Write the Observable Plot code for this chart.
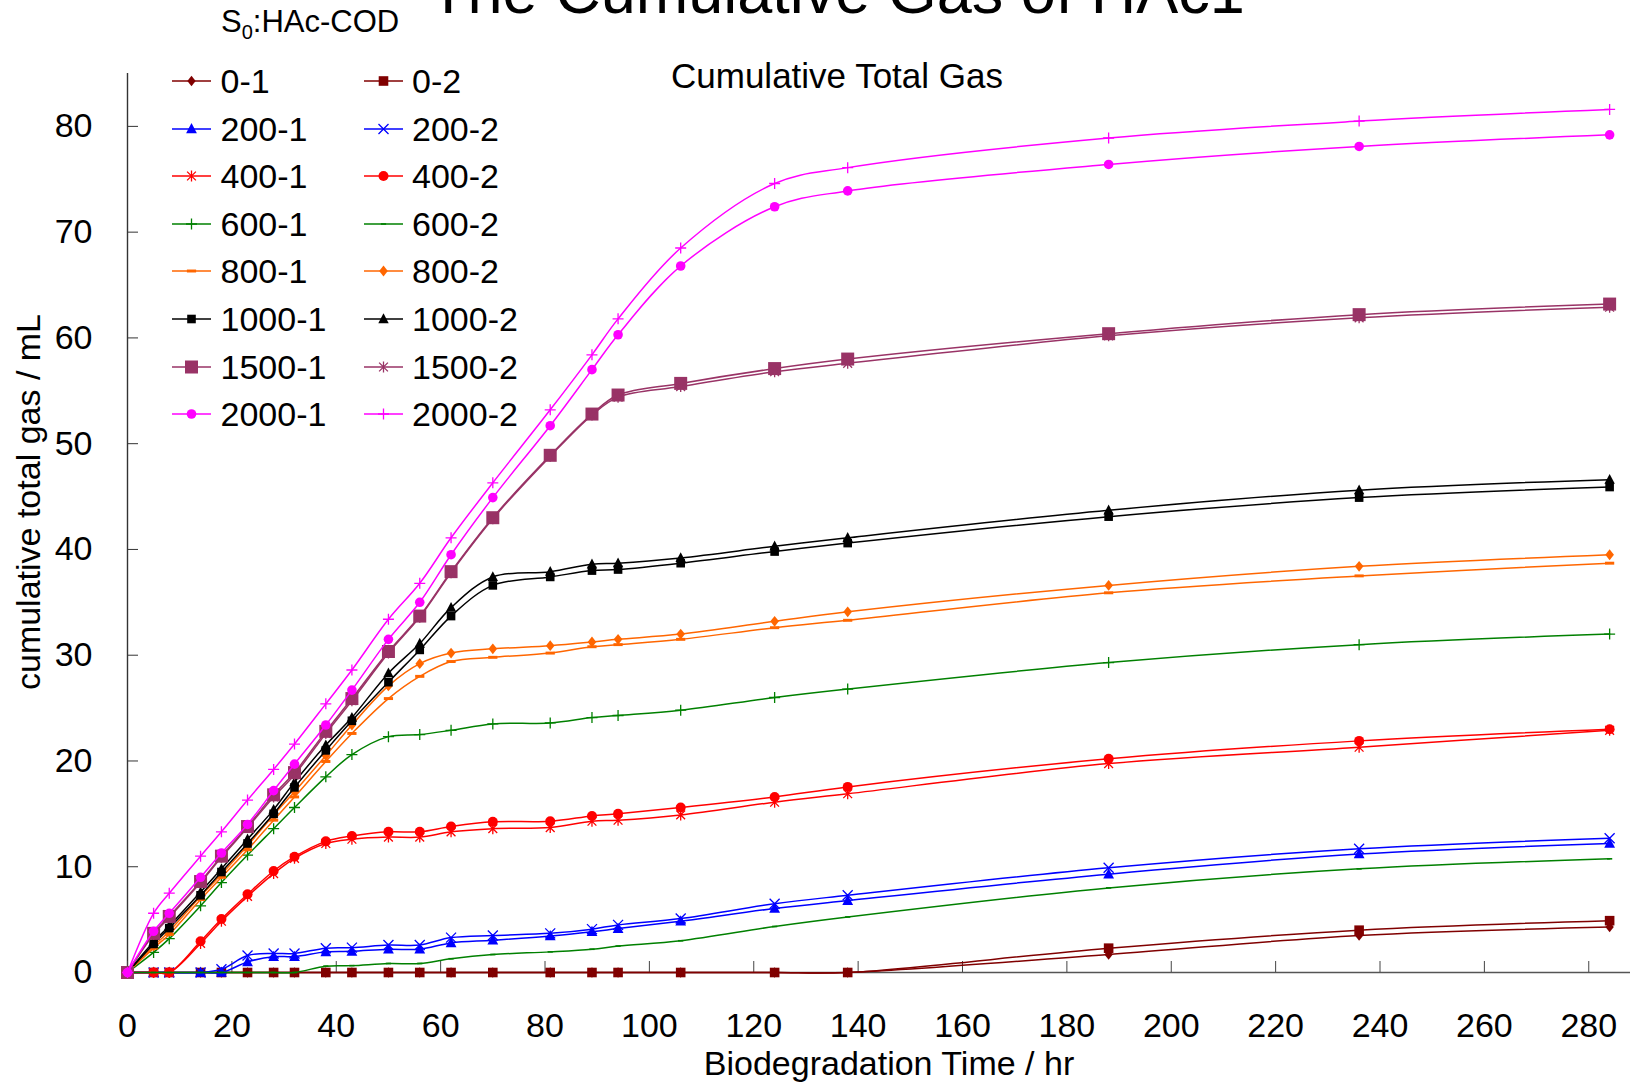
<!DOCTYPE html>
<html><head><meta charset="utf-8">
<script src="https://cdn.jsdelivr.net/npm/d3@7"></script>
<script src="https://cdn.jsdelivr.net/npm/@observablehq/plot@0.6"></script>
<style>
html,body{margin:0;padding:0;background:#fff;}
#wrap{position:relative;width:1630px;height:1083px;overflow:hidden;font-family:"Liberation Sans",Arial,sans-serif;color:#000;background:#fff;}
#chart{position:absolute;left:0;top:0;}
.abs{position:absolute;white-space:nowrap;line-height:1;}
</style></head><body>
<div id="wrap">
 <div id="chart"></div>
 <div class="abs" style="left:837px;top:-40px;font-size:63px;transform:translateX(-50%)">The Cumulative Gas of HAc1</div>
 <div class="abs" style="left:221px;top:6px;font-size:31px">S<span style="font-size:20px;position:relative;top:7px">0</span>:HAc-COD</div>
 <div class="abs" style="left:837px;top:58px;font-size:35px;transform:translateX(-50%)">Cumulative Total Gas</div>
 <div id="legend"></div>
</div>
<script>
// ---- data ----
const hours = [0,5,8,14,18,23,28,32,38,43,50,56,62,70,81,89,94,106,124,138,188,236,284];
const gas0_1    = [0,0,0,0,0,0,0,0,0,0,0,0,0,0,0,0,0,0,0,0,1.7,3.5,4.3];
const gas0_2    = [0,0,0,0,0,0,0,0,0,0,0,0,0,0,0,0,0,0,0,0,2.3,4.0,4.9];
const gas200_1  = [0,0,0,0,0,1.0,1.5,1.5,1.95,2.0,2.2,2.2,2.8,3.05,3.45,3.85,4.15,4.85,6.05,6.8,9.3,11.2,12.2];
const gas200_2  = [0,0,0,0,0.3,1.6,1.8,1.8,2.3,2.35,2.6,2.6,3.3,3.5,3.7,4.1,4.5,5.1,6.5,7.3,9.9,11.7,12.7];
const gas400_1  = [0,0,0,2.75,4.85,7.2,9.35,10.8,12.2,12.6,12.8,12.8,13.3,13.6,13.7,14.3,14.4,14.9,16.1,16.9,19.75,21.3,22.9];
const gas400_2  = [0,0,0,2.95,5.05,7.4,9.6,10.95,12.4,12.9,13.3,13.3,13.8,14.25,14.3,14.8,15.0,15.6,16.6,17.55,20.2,21.9,23.0];
const gas600_1  = [0,1.9,3.2,6.3,8.5,11.1,13.6,15.6,18.5,20.6,22.3,22.5,22.9,23.5,23.6,24.1,24.3,24.8,26.0,26.8,29.3,31.0,32.0];
const gas600_2  = [0,0,0,0,0,0,0,0,0.6,0.65,0.85,0.85,1.3,1.7,1.95,2.2,2.5,3.0,4.35,5.25,8.0,9.8,10.75];
const gas800_1  = [0,2.3,3.6,6.9,9.0,11.6,14.4,16.6,19.95,22.6,25.9,28.0,29.4,29.8,30.2,30.8,31.0,31.5,32.6,33.3,35.9,37.5,38.7];
const gas800_2  = [0,2.5,3.9,7.2,9.3,12.0,14.9,17.1,20.5,23.4,27.1,29.2,30.2,30.6,30.9,31.25,31.5,32.0,33.2,34.1,36.6,38.4,39.5];
const gas1000_1 = [0,2.7,4.2,7.3,9.5,12.2,15.0,17.5,21.0,23.8,27.45,30.5,33.7,36.6,37.4,38.0,38.1,38.7,39.8,40.6,43.1,44.9,45.9];
const gas1000_2 = [0,2.9,4.4,7.6,9.8,12.6,15.4,18.0,21.5,24.1,28.3,31.1,34.5,37.4,37.9,38.6,38.7,39.2,40.3,41.1,43.7,45.6,46.6];
const gas1500_1 = [0,3.7,5.3,8.6,11.0,13.8,16.8,18.9,22.8,25.9,30.35,33.7,37.9,43.0,48.9,52.8,54.6,55.7,57.1,58.0,60.4,62.2,63.2];
const gas1500_2 = [0,3.6,5.2,8.5,10.9,13.7,16.6,18.7,22.6,25.7,30.2,33.6,37.8,42.9,48.8,52.7,54.4,55.4,56.8,57.6,60.2,61.9,62.9];
const gas2000_1 = [0,3.9,5.6,9.0,11.3,14.0,17.2,19.7,23.4,26.7,31.5,35.0,39.5,44.9,51.7,57.0,60.3,66.8,72.4,73.9,76.4,78.1,79.2];
const gas2000_2 = [0,5.6,7.5,11.0,13.3,16.3,19.2,21.6,25.4,28.6,33.4,36.8,41.1,46.3,53.2,58.4,61.8,68.5,74.6,76.1,78.9,80.5,81.6];
const seriesNames = ["0-1","0-2","200-1","200-2","400-1","400-2","600-1","600-2","800-1","800-2","1000-1","1000-2","1500-1","1500-2","2000-1","2000-2"];
const seriesValues = [gas0_1,gas0_2,gas200_1,gas200_2,gas400_1,gas400_2,gas600_1,gas600_2,gas800_1,gas800_2,gas1000_1,gas1000_2,gas1500_1,gas1500_2,gas2000_1,gas2000_2];
const xTicks = [0,20,40,60,80,100,120,140,160,180,200,220,240,260,280];
const yTicks = [0,10,20,30,40,50,60,70,80];

// ---- styles ----
const R = s => Math.sqrt(s / Math.PI);
const symbols = {
  diamond: {draw(c,s){const r=R(s);c.moveTo(0,-r);c.lineTo(r*0.8,0);c.lineTo(0,r);c.lineTo(-r*0.8,0);c.closePath();}},
  square: {draw(c,s){const r=R(s);c.rect(-r,-r,2*r,2*r);}},
  triangle: {draw(c,s){const r=R(s);c.moveTo(0,-r*1.1);c.lineTo(r,r*0.8);c.lineTo(-r,r*0.8);c.closePath();}},
  times: {draw(c,s){const r=R(s);c.moveTo(-r,-r);c.lineTo(r,r);c.moveTo(r,-r);c.lineTo(-r,r);}},
  star: {draw(c,s){const r=R(s);c.moveTo(-r*0.8,-r*0.8);c.lineTo(r*0.8,r*0.8);c.moveTo(r*0.8,-r*0.8);c.lineTo(-r*0.8,r*0.8);c.moveTo(0,-r);c.lineTo(0,r);}},
  circle: {draw(c,s){const r=R(s);c.moveTo(r,0);c.arc(0,0,r,0,2*Math.PI);c.closePath();}},
  plus: {draw(c,s){const r=R(s);c.moveTo(-r,0);c.lineTo(r,0);c.moveTo(0,-r);c.lineTo(0,r);}},
  dash: {draw(c,s){const r=R(s);c.rect(-r,-r*0.32,2*r,r*0.64);}}
};
const styles = {
  "0-1":   {color:"#800000", sym:"diamond", r:5.2, filled:true},
  "0-2":   {color:"#800000", sym:"square", r:4.8, filled:true},
  "200-1": {color:"#0000FF", sym:"triangle", r:5.4, filled:true},
  "200-2": {color:"#0000FF", sym:"times", r:5, filled:false},
  "400-1": {color:"#FF0000", sym:"star", r:5.5, filled:false},
  "400-2": {color:"#FF0000", sym:"circle", r:5, filled:true},
  "600-1": {color:"#008000", sym:"plus", r:5.5, filled:false},
  "600-2": {color:"#008000", sym:"dash", r:2.6, filled:true},
  "800-1": {color:"#FF6600", sym:"dash", r:4.6, filled:true},
  "800-2": {color:"#FF6600", sym:"diamond", r:5.4, filled:true},
  "1000-1":{color:"#000000", sym:"square", r:4.3, filled:true},
  "1000-2":{color:"#000000", sym:"triangle", r:5.2, filled:true},
  "1500-1":{color:"#993366", sym:"square", r:6.5, filled:true},
  "1500-2":{color:"#993366", sym:"star", r:5.5, filled:false},
  "2000-1":{color:"#FF00FF", sym:"circle", r:4.8, filled:true},
  "2000-2":{color:"#FF00FF", sym:"plus", r:5.5, filled:false}
};

// ---- chart ----
const marks = [
  Plot.ruleX([0], {stroke:"#333", strokeWidth:1.4}),
  Plot.ruleY([0], {stroke:"#555", strokeWidth:1.6}),
  Plot.axisY({ticks: yTicks, tickSize: -11, tickPadding: 46, fontSize: 34, stroke:"#333", label: null}),
  Plot.axisX({ticks: xTicks, tickSize: -11, tickPadding: 51, fontSize: 34, stroke:"#444", label: null}),
  Plot.text(["Biodegradation Time / hr"], {text: d => d, frameAnchor: "bottom", textAnchor: "middle", dx: 10, dy: 102, fontSize: 34}),
  Plot.text(["cumulative total gas / mL"], {text: d => d, frameAnchor: "left", textAnchor: "middle", rotate: -90, dx: -98, dy: -21, fontSize: 34})
];
seriesNames.forEach((name, i) => {
  const st = styles[name];
  const data = hours.map((h, j) => ({hour: h, gas: seriesValues[i][j]}));
  marks.push(Plot.line(data, {x: "hour", y: "gas", stroke: st.color, strokeWidth: 1.5, curve: "catmull-rom"}));
  marks.push(Plot.dot(data, {x: "hour", y: "gas", symbol: symbols[st.sym], r: st.r,
    fill: st.filled ? st.color : "none", stroke: st.filled ? "none" : st.color, strokeWidth: 1.3}));
});
const chart = Plot.plot({
  width: 1630, height: 1083,
  marginLeft: 127, marginRight: 0, marginTop: 73, marginBottom: 111,
  x: {domain: [0, 288]},
  y: {domain: [0, 85]},
  style: {fontFamily: '"Liberation Sans", Arial, sans-serif', background: "#fff", color: "#000"},
  marks
});
document.getElementById("chart").appendChild(chart);

// ---- legend ----
const leg = d3.select("#legend");
seriesNames.forEach((name, i) => {
  const st = styles[name];
  const col = i % 2, row = Math.floor(i / 2);
  const item = leg.append("div").attr("class", "abs")
    .style("left", (col ? 363.5 : 172) + "px")
    .style("top", (81 + 47.6 * row - 17) + "px")
    .style("height", "34px").style("width", "200px").style("font-size", "34px");
  const svg = item.append("svg").attr("width", 40).attr("height", 34)
    .style("position", "absolute").style("left", "0px").style("top", "0px");
  svg.append("line").attr("x1", 0).attr("x2", 39).attr("y1", 17).attr("y2", 17)
    .attr("stroke", st.color).attr("stroke-width", 1.5);
  svg.append("path").attr("transform", "translate(19.5,17)")
    .attr("d", d3.symbol(symbols[st.sym], st.r * st.r * Math.PI)())
    .attr("fill", st.filled ? st.color : "none")
    .attr("stroke", st.filled ? "none" : st.color).attr("stroke-width", 1.3);
  item.append("span").style("position", "absolute").style("left", "48.5px").style("top", "0px").text(name);
});
</script>
</body></html>
